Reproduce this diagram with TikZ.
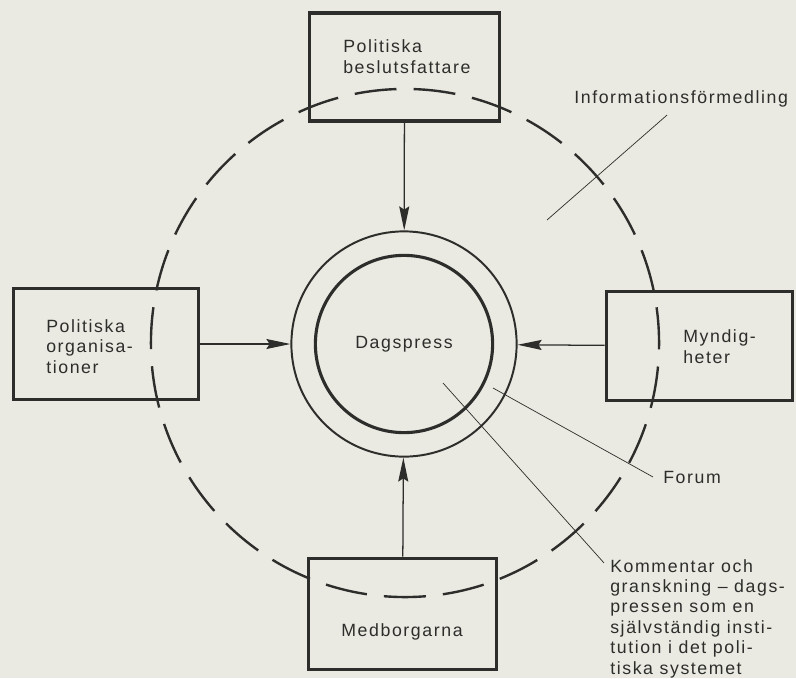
\documentclass[tikz,border=0pt]{standalone}
\usepackage{fontspec}
\setmainfont[LetterSpace=9]{Liberation Sans}
\usetikzlibrary{arrows.meta}
\definecolor{papper}{RGB}{234,234,226}
\definecolor{trycksvart}{RGB}{45,45,43}
\tikzstyle{ruta} = [rectangle, draw=trycksvart, line width=2.6pt, inner sep=0pt]
\tikzstyle{etikett} = [inner sep=0pt, align=left, text=trycksvart, font=\fontsize{12.6pt}{14.5pt}\selectfont]
\tikzstyle{pil} = [line width=0.9pt, draw=trycksvart, -{Stealth[length=6mm, width=2.5mm, inset=0.8mm]}]
\tikzstyle{pekare} = [line width=0.5pt, draw=trycksvart]

\begin{document}
\begin{tikzpicture}[x=0.025cm, y=-0.025cm]
        \fill[papper] (0,0) rectangle (796,678);
        \useasboundingbox (0,0) rectangle (796,678);

        % dashed system boundary
        \node (ram) [circle, draw=trycksvart, line width=1.7pt, dash pattern=on 1.05cm off 0.4277cm, dash phase=0.155cm, minimum size=12.7cm, inner sep=0pt] at (405,343) {};

        % press in the middle
        \node (ring) [circle, draw=trycksvart, line width=1.4pt, minimum size=5.63cm, inner sep=0pt] at (404,344) {};
        \node (press) [circle, draw=trycksvart, line width=2.2pt, minimum size=4.43cm, inner sep=0pt, etikett] at (404,344) {Dagspress};

        % actors
        \node (beslut) [ruta, minimum width=4.75cm, minimum height=2.7cm] at (404.5,67) {};
        \node (org) [ruta, minimum width=4.63cm, minimum height=2.78cm] at (106,344) {};
        \node (myndig) [ruta, minimum width=4.65cm, minimum height=2.73cm] at (699.5,346) {};
        \node (medb) [ruta, minimum width=4.7cm, minimum height=2.78cm] at (402.5,614) {};

        % base = last line
        \node (beslut_txt) [etikett, anchor=base west] at (343,73) {Politiska\\beslutsfattare};
        \node (org_txt) [etikett, anchor=base west] at (46,373) {Politiska\\organisa-\\tioner};
        \node (myndig_txt) [etikett, anchor=base west] at (683,363) {Myndig-\\heter};
        \node (medb_txt) [etikett, anchor=base] at (402,636) {Medborgarna};

        \draw [pil] (beslut) -- (ring);
        \draw [pil] (org) -- (ring);
        \draw [pil] (myndig) -- (ring);
        \draw [pil] (medb) -- (ring);

        % labels with pointer lines
        \node (info) [etikett, anchor=base west] at (574,103) {Informationsförmedling};
        \node (forum) [etikett, anchor=base west] at (663,483) {Forum};
        \node (komm) [etikett, anchor=base west] at (610,674) {Kommentar och\\granskning – dags-\\pressen som en\\självständig insti-\\tution i det poli-\\tiska systemet};

        \coordinate (info_mal) at (547,220);
        \coordinate (forum_mal) at (493,388);
        \coordinate (komm_mal) at (443,383);

        \draw [pekare] ([shift={(-14,8)}]info.south) -- (info_mal);
        \draw [pekare] ([xshift=-0.25cm]forum.west) -- (forum_mal);
        \draw [pekare] ([shift={(-6,4)}]komm.north west) -- (komm_mal);
\end{tikzpicture}
\end{document}
